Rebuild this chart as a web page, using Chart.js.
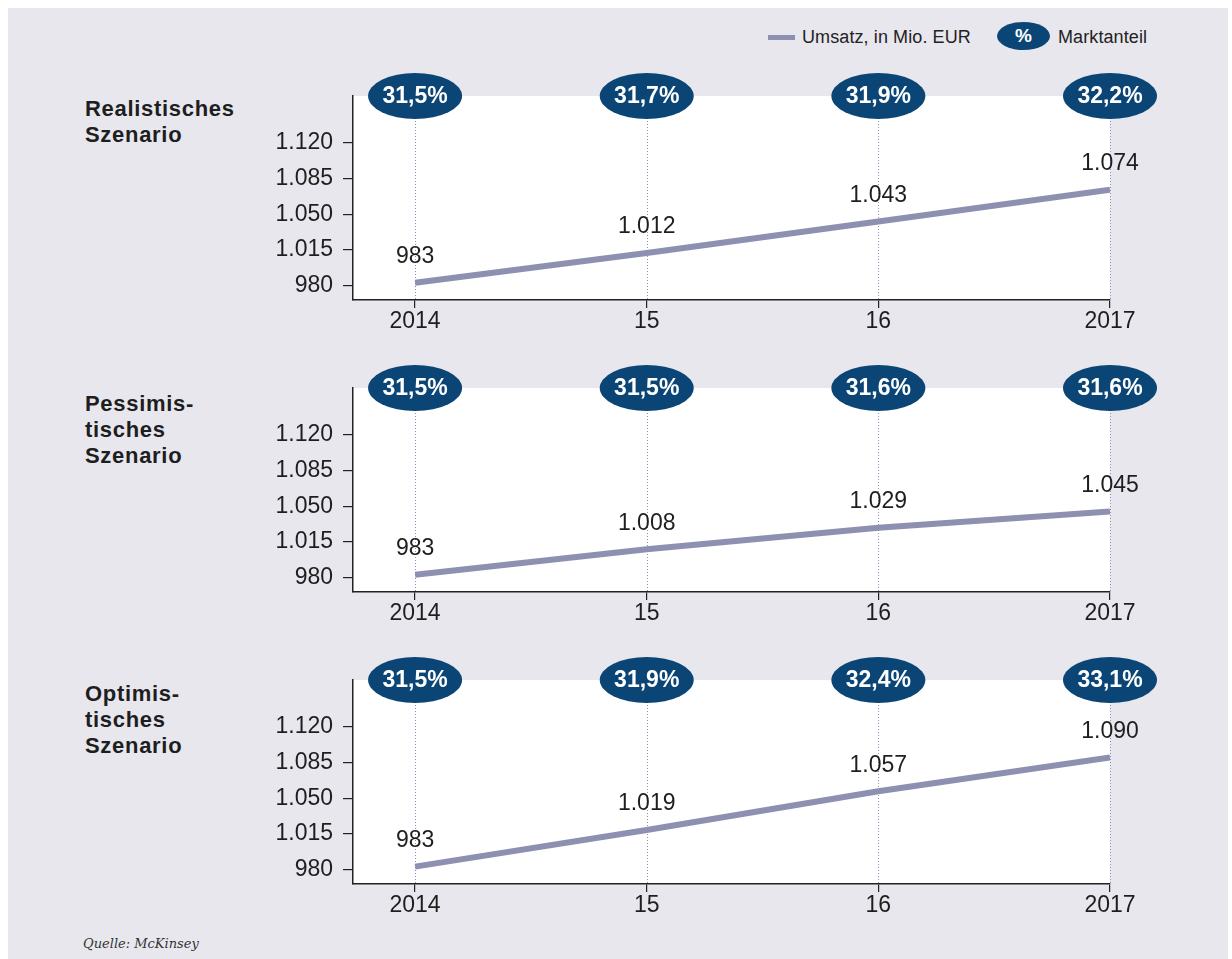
<!DOCTYPE html>
<html>
<head>
<meta charset="utf-8">
<script src="https://cdn.jsdelivr.net/npm/chart.js@4.4.1/dist/chart.umd.min.js"></script>
<style>
  html, body { margin: 0; padding: 0; background: #ffffff; }
  body { width: 1232px; height: 959px; position: relative; overflow: hidden; font-family: "Liberation Sans", Arial, Helvetica, sans-serif; color: #222; }
  #bg { position: absolute; left: 8px; top: 8px; width: 1220px; height: 951px; background: #e8e7ee; }
  .title { position: absolute; left: 85px; font-weight: bold; font-size: 22px; line-height: 26px; letter-spacing: 0.7px; color: #1e1e1e; }
  .chartbox { position: absolute; left: 0; width: 1232px; }
  .legtxt { position: absolute; font-size: 18px; line-height: 20px; color: #222; letter-spacing: 0.1px; }
  #legline { position: absolute; left: 768px; top: 35px; width: 27px; height: 5px; background: #8d90b1; }
  #legell { position: absolute; left: 997px; top: 22px; width: 53px; height: 28px; border-radius: 50%; background: #0b4575; color: #fff; font-weight: bold; font-size: 19px; line-height: 28px; text-align: center; }
  #source { position: absolute; left: 83px; top: 936px; font-family: "DejaVu Serif", "Liberation Serif", serif; font-style: italic; font-size: 13px; color: #333; }
</style>
</head>
<body>
<div id="bg"></div>
<div id="legline"></div>
<div class="legtxt" style="left:802px; top:27px;">Umsatz, in Mio. EUR</div>
<div id="legell">%</div>
<div class="legtxt" style="left:1058px; top:27px;">Marktanteil</div>
<div id="source">Quelle: McKinsey</div>
<script>
// ---- data ----
const years = [2014, 2015, 2016, 2017];
const yearLabels = ['2014', '15', '16', '2017'];
const yTicks = [980, 1015, 1050, 1085, 1120];

const scenarioTitles = [
  ['Realistisches', 'Szenario'],
  ['Pessimis-', 'tisches', 'Szenario'],
  ['Optimis-', 'tisches', 'Szenario']
];
const realisticRevenue = [983, 1012, 1043, 1074];
const realisticShare = [31.5, 31.7, 31.9, 32.2];
const pessimisticRevenue = [983, 1008, 1029, 1045];
const pessimisticShare = [31.5, 31.5, 31.6, 31.6];
const optimisticRevenue = [983, 1019, 1057, 1090];
const optimisticShare = [31.5, 31.9, 32.4, 33.1];

const revenues = [realisticRevenue, pessimisticRevenue, optimisticRevenue];
const shares = [realisticShare, pessimisticShare, optimisticShare];

// ---- layout ----
const areaTops = [96, 388, 680];
const titleTops = [96, 391, 681];
const AREA_H = 204, PAD_TOP = 60, X_AXIS_H = 50;
const LINE_COLOR = '#8d90b1';
const NAVY = '#0b4575';
const FONT = '"Liberation Sans", Arial, Helvetica, sans-serif';

function fmtDE(v) {
  if (v >= 1000) return Math.floor(v / 1000) + '.' + String(Math.round(v % 1000)).padStart(3, '0');
  return String(v);
}
function fmtPct(v) { return v.toFixed(1).replace('.', ',') + '%'; }

const decorPlugin = {
  id: 'decor',
  beforeDraw(chart) {
    const a = chart.chartArea, ctx = chart.ctx;
    ctx.save();
    ctx.fillStyle = '#ffffff';
    ctx.fillRect(a.left, a.top, a.right - a.left, a.bottom - a.top);
    ctx.restore();
  },
  beforeDatasetsDraw(chart) {
    const a = chart.chartArea, ctx = chart.ctx, xs = chart.scales.x;
    ctx.save();
    ctx.strokeStyle = '#8a8fba';
    ctx.lineWidth = 1;
    ctx.setLineDash([1, 2]);
    years.forEach(yr => {
      const x = Math.round(xs.getPixelForValue(yr)) + 0.5;
      ctx.beginPath();
      ctx.moveTo(x, a.top + 22);
      ctx.lineTo(x, a.bottom);
      ctx.stroke();
    });
    ctx.restore();
  },
  afterDatasetsDraw(chart) {
    const a = chart.chartArea, ctx = chart.ctx, xs = chart.scales.x, ys = chart.scales.y;
    const idx = chart.options.plugins.decor.index;
    const rev = revenues[idx], sh = shares[idx];
    ctx.save();
    // value labels
    ctx.fillStyle = '#1e1e1e';
    ctx.font = '23px ' + FONT;
    ctx.textAlign = 'center';
    ctx.textBaseline = 'middle';
    years.forEach((yr, i) => {
      ctx.fillText(fmtDE(rev[i]), xs.getPixelForValue(yr), ys.getPixelForValue(rev[i]) - 26);
    });
    // share ellipses
    years.forEach((yr, i) => {
      const cx = xs.getPixelForValue(yr), cy = a.top;
      ctx.fillStyle = NAVY;
      ctx.beginPath();
      ctx.ellipse(cx, cy, 47, 23, 0, 0, Math.PI * 2);
      ctx.fill();
      ctx.fillStyle = '#ffffff';
      ctx.font = 'bold 23px ' + FONT;
      ctx.fillText(fmtPct(sh[i]), cx, cy + 1);
    });
    ctx.restore();
  }
};

areaTops.forEach((top, idx) => {
  // title
  const t = document.createElement('div');
  t.className = 'title';
  t.style.top = titleTops[idx] + 'px';
  t.innerHTML = scenarioTitles[idx].join('<br>');
  document.body.appendChild(t);

  const box = document.createElement('div');
  box.className = 'chartbox';
  const H = AREA_H + PAD_TOP + X_AXIS_H;
  box.style.top = (top - PAD_TOP) + 'px';
  box.style.height = H + 'px';
  const cv = document.createElement('canvas');
  cv.width = 1232; cv.height = H;
  cv.style.width = '1232px'; cv.style.height = H + 'px';
  box.appendChild(cv);
  document.body.appendChild(box);

  new Chart(cv.getContext('2d'), {
    type: 'line',
    data: {
      datasets: [{
        data: years.map((yr, i) => ({ x: yr, y: revenues[idx][i] })),
        borderColor: LINE_COLOR,
        borderWidth: 6,
        borderCapStyle: 'butt',
        pointRadius: 0,
        tension: 0,
        fill: false
      }]
    },
    options: {
      responsive: false,
      animation: false,
      devicePixelRatio: 1,
      layout: { padding: { left: 273, right: 122, top: PAD_TOP, bottom: 0 } },
      plugins: {
        legend: { display: false },
        tooltip: { enabled: false },
        decor: { index: idx }
      },
      scales: {
        x: {
          type: 'linear',
          min: 2013.732,
          max: 2017,
          afterBuildTicks(s) { s.ticks = years.map(v => ({ value: v })); },
          afterFit(s) { s.height = X_AXIS_H; },
          grid: { drawOnChartArea: false, drawTicks: true, tickLength: 8, color: '#222', lineWidth: 1.2 },
          border: { display: true, color: '#222', width: 1.5 },
          ticks: {
            color: '#1e1e1e',
            font: { family: FONT, size: 23, lineHeight: 1 },
            padding: 2,
            maxRotation: 0,
            callback: (v) => yearLabels[years.indexOf(v)]
          }
        },
        y: {
          min: 966,
          max: 1166,
          afterBuildTicks(s) { s.ticks = yTicks.map(v => ({ value: v })); },
          afterFit(s) { s.width = 80; },
          grid: { drawOnChartArea: false, drawTicks: true, tickLength: 10, color: '#222', lineWidth: 1.2 },
          border: { display: true, color: '#222', width: 1.5 },
          ticks: {
            color: '#1e1e1e',
            font: { family: FONT, size: 23 },
            padding: 10,
            callback: (v) => fmtDE(v)
          }
        }
      }
    },
    plugins: [decorPlugin]
  });
});
</script>
</body>
</html>
